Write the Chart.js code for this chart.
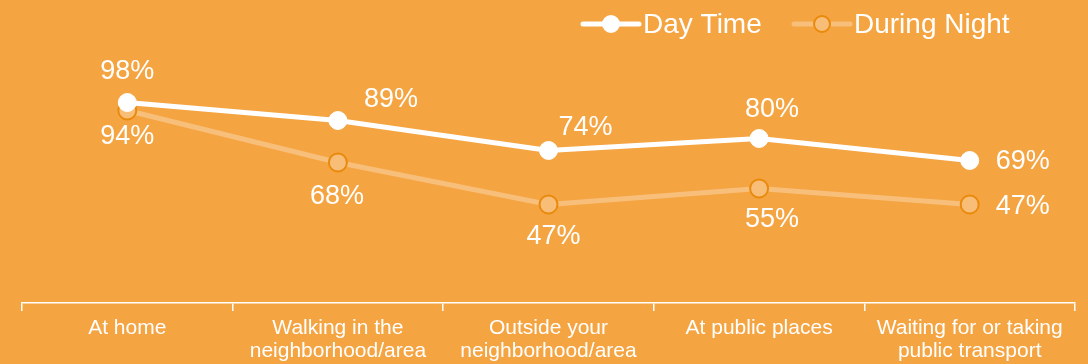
<!DOCTYPE html>
<html lang="en">
<head>
<meta charset="UTF-8">
<title>Safety by place</title>
<script src="https://cdn.jsdelivr.net/npm/chart.js"></script>
<style>
    html, body { margin: 0; padding: 0; background: #F5A442; }
    .wrap { width: 1088px; height: 364px; }
</style>
</head>
<body>
<div class="wrap"><canvas id="myChart" width="1088" height="364"></canvas></div>
<script>
const places = ['At home', ['Walking in the', 'neighborhood/area'], ['Outside your', 'neighborhood/area'], 'At public places', ['Waiting for or taking', 'public transport']];
const dayTime = [98, 89, 74, 80, 69];
const duringNight = [94, 68, 47, 55, 47];
// label nudges from each point, [dx, dy]
const dayLabelShift = [[0, -31], [53, -21], [37, -23], [13, -29], [53, 1]];
const nightLabelShift = [[0, 26], [-1, 34], [5, 32], [13, 31], [53, 2]];

const bg = '#F5A442';
const font = '"Liberation Sans", Arial, sans-serif';

const bgPlugin = {
    id: 'bg',
    beforeDraw(chart) {
        const c = chart.ctx;
        c.save();
        c.fillStyle = bg;
        c.fillRect(0, 0, chart.width, chart.height);
        c.restore();
    }
};

const labelPlugin = {
    id: 'valueLabels',
    afterDatasetsDraw(chart) {
        const c = chart.ctx;
        const shifts = [dayLabelShift, nightLabelShift];
        c.save();
        c.font = '27px ' + font;
        c.fillStyle = '#fff';
        c.textAlign = 'center';
        c.textBaseline = 'middle';
        chart.data.datasets.forEach((ds, i) => {
            chart.getDatasetMeta(i).data.forEach((pt, j) => {
                const s = shifts[i][j];
                c.fillText(ds.data[j] + '%', pt.x + s[0], pt.y + s[1]);
            });
        });
        c.restore();
    }
};

const legendPlugin = {
    id: 'lineLegend',
    afterDraw(chart) {
        const c = chart.ctx;
        const items = [
            { x: 583, ds: chart.data.datasets[0] },
            { x: 794, ds: chart.data.datasets[1] }
        ];
        const y = 24;
        c.save();
        c.font = '28px ' + font;
        c.textBaseline = 'middle';
        items.forEach(it => {
            c.strokeStyle = it.ds.borderColor;
            c.lineWidth = 5;
            c.lineCap = 'round';
            c.beginPath();
            c.moveTo(it.x, y);
            c.lineTo(it.x + 56, y);
            c.stroke();
            c.beginPath();
            c.arc(it.x + 28, y, 8, 0, Math.PI * 2);
            c.fillStyle = it.ds.pointBackgroundColor;
            c.fill();
            c.lineWidth = 2;
            c.strokeStyle = it.ds.pointBorderColor;
            c.stroke();
            c.fillStyle = '#fff';
            c.fillText(it.ds.label, it.x + 60, y + 1);
        });
        c.restore();
    }
};

const ctx = document.querySelector('#myChart');
const myChart = new Chart(ctx, {
    type: 'line',
    data: {
        labels: places,
        datasets: [{
            label: 'Day Time',
            data: dayTime,
            borderColor: '#ffffff',
            borderWidth: 5,
            pointRadius: 9,
            pointBackgroundColor: '#ffffff',
            pointBorderColor: '#ffffff',
            pointBorderWidth: 1,
            order: 1
        }, {
            label: 'During Night',
            data: duringNight,
            borderColor: 'rgba(255,255,255,0.3)',
            borderWidth: 5,
            pointRadius: 9,
            pointBackgroundColor: '#F8BD77',
            pointBorderColor: '#E98A0C',
            pointBorderWidth: 2,
            order: 2
        }]
    },
    options: {
        responsive: false,
        animation: false,
        layout: { padding: { top: 58, left: 22, right: 13, bottom: 0 } },
        plugins: {
            legend: { display: false },
            tooltip: { enabled: false }
        },
        scales: {
            y: { display: false, min: -2.25, max: 120.25 },
            x: {
                offset: true,
                grid: {
                    offset: true,
                    drawOnChartArea: false,
                    color: '#ffffff',
                    tickLength: 8,
                    lineWidth: 1.5
                },
                border: { color: '#ffffff', width: 1.5 },
                ticks: {
                    color: '#ffffff',
                    font: { family: font, size: 21, lineHeight: 1.1 },
                    padding: 6,
                    maxRotation: 0,
                    autoSkip: false
                },
                afterFit(scale) { scale.height = 61; }
            }
        }
    },
    plugins: [bgPlugin, labelPlugin, legendPlugin]
});
</script>
</body>
</html>
